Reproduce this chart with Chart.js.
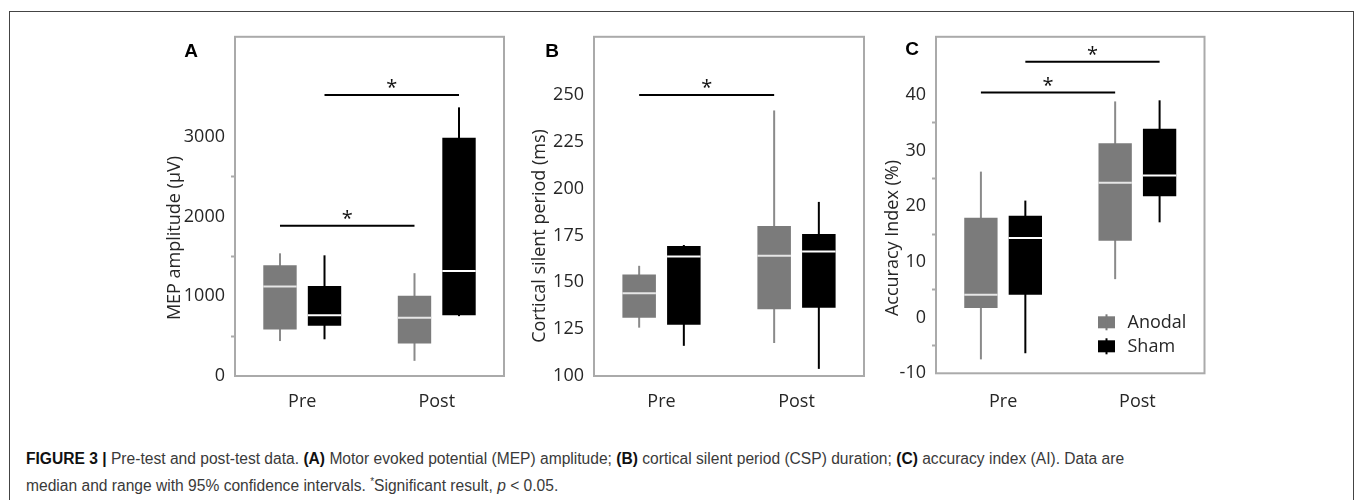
<!DOCTYPE html>
<html>
<head>
<meta charset="utf-8">
<script src="https://cdn.jsdelivr.net/npm/chart.js@4.4.1/dist/chart.umd.min.js"></script>
<style>
  body { margin: 0; background: #fff; }
  #page { position: relative; width: 1355px; height: 500px; overflow: hidden; }
  #frame { position: absolute; left: 9px; top: 11px; width: 1343px; height: 520px; border: 1px solid #444; }
  .panel { position: absolute; top: 20px; width: 385px; height: 410px; }
  #caption {
    position: absolute; left: 26px; top: 447px; white-space: nowrap;
    font-family: "Liberation Sans", Arial, sans-serif; font-size: 15.6px; line-height: 23px; color: #3a3a3a;
  }
  #caption b { color: #111; }
</style>
</head>
<body>
<div id="page">
  <div id="frame"></div>
  <div class="panel" style="left:125px"><canvas id="chartA"></canvas></div>
  <div class="panel" style="left:485px"><canvas id="chartB"></canvas></div>
  <div class="panel" style="left:826px"><canvas id="chartC"></canvas></div>
  <div id="caption"><b>FIGURE 3 |</b> Pre-test and post-test data. <b>(A)</b> Motor evoked potential (MEP) amplitude; <b>(B)</b> cortical silent period (CSP) duration; <b>(C)</b> accuracy index (AI). Data are<br>median and range with 95% confidence intervals. <sup style="font-size:10px">*</sup>Significant result, <i>p</i> &lt; 0.05.</div>
</div>
<script>
var groups = ['Pre', 'Post'];
var seriesNames = ['Anodal', 'Sham'];

// A - MEP amplitude (µV)
var mepTicks = [0, 500, 1000, 1500, 2000, 2500, 3000];
var mepAnodalMin = [438, 190];
var mepAnodalQ1 = [584, 406];
var mepAnodalMed = [1122, 729];
var mepAnodalQ3 = [1388, 1006];
var mepAnodalMax = [1537, 1288];
var mepShamMin = [460, 750];
var mepShamQ1 = [630, 762];
var mepShamMed = [762, 1317];
var mepShamQ3 = [1127, 2985];
var mepShamMax = [1512, 3366];
var mepSig = [{ series: 1, y: 3520 }, { series: 0, y: 1884 }];

// B - cortical silent period (ms)
var cspTicks = [100, 125, 150, 175, 200, 225, 250];
var cspAnodalMin = [125.8, 117.6];
var cspAnodalQ1 = [131.1, 135.6];
var cspAnodalMed = [144.2, 164.1];
var cspAnodalQ3 = [154.1, 180];
var cspAnodalMax = [158.8, 241.7];
var cspShamMin = [116.1, 103.8];
var cspShamQ1 = [127.4, 136.4];
var cspShamMed = [163.8, 166.4];
var cspShamQ3 = [169.4, 175.8];
var cspShamMax = [169.9, 192.9];
var cspSig = [{ series: 0, y: 250 }];

// C - accuracy index (%)
var aiTicks = [-10, -5, 0, 5, 10, 15, 20, 25, 30, 35, 40];
var aiAnodalMin = [-7.5, 6.9];
var aiAnodalQ1 = [1.7, 13.8];
var aiAnodalMed = [4.1, 24.2];
var aiAnodalQ3 = [17.9, 31.3];
var aiAnodalMax = [26.2, 38.8];
var aiShamMin = [-6.4, 17.1];
var aiShamQ1 = [4.1, 21.8];
var aiShamMed = [14.3, 25.5];
var aiShamQ3 = [18.3, 33.9];
var aiShamMax = [21.0, 39.0];
var aiSig = [{ series: 1, y: 45.9 }, { series: 0, y: 40.4 }];

var boxColors = ['#7b7b7b', '#000000'];
var whiskerColors = ['#8a8a8a', '#000000'];
var medianColors = ['#e6e6e6', '#ffffff'];
var textColor = '#262626';
var tickFont = { family: '"Open Sans", sans-serif', size: 18 };

var boxExtras = {
  id: 'boxExtras',
  beforeDatasetsDraw: function(chart) {
    var ctx = chart.ctx, y = chart.scales.y;
    ctx.save();
    chart.data.datasets.forEach(function(ds, i) {
      var meta = chart.getDatasetMeta(i);
      ctx.strokeStyle = whiskerColors[i];
      ctx.lineWidth = 2;
      meta.data.forEach(function(bar, j) {
        ctx.beginPath();
        ctx.moveTo(bar.x, y.getPixelForValue(ds.whiskerMin[j]));
        ctx.lineTo(bar.x, y.getPixelForValue(ds.whiskerMax[j]));
        ctx.stroke();
      });
    });
    ctx.restore();
  },
  afterDatasetsDraw: function(chart, args, opts) {
    var ctx = chart.ctx, y = chart.scales.y, area = chart.chartArea;
    ctx.save();
    // medians
    chart.data.datasets.forEach(function(ds, i) {
      var meta = chart.getDatasetMeta(i);
      ctx.strokeStyle = medianColors[i];
      ctx.lineWidth = 2;
      meta.data.forEach(function(bar, j) {
        var py = y.getPixelForValue(ds.median[j]);
        ctx.beginPath();
        ctx.moveTo(bar.x - bar.width / 2, py);
        ctx.lineTo(bar.x + bar.width / 2, py);
        ctx.stroke();
      });
    });
    // frame
    ctx.strokeStyle = '#aaaaaa';
    ctx.lineWidth = 2;
    ctx.strokeRect(area.left, area.top, area.right - area.left, area.bottom - area.top);
    // significance bars
    ctx.strokeStyle = '#000';
    ctx.fillStyle = '#111';
    ctx.font = '20px "Open Sans", sans-serif';
    ctx.textAlign = 'center';
    ctx.textBaseline = 'alphabetic';
    (opts.sig || []).forEach(function(s) {
      var meta = chart.getDatasetMeta(s.series);
      var x1 = meta.data[0].x, x2 = meta.data[1].x, py = y.getPixelForValue(s.y);
      ctx.beginPath();
      ctx.moveTo(x1, py);
      ctx.lineTo(x2, py);
      ctx.stroke();
      ctx.fillText('*', (x1 + x2) / 2, py - 1);
    });
    // legend
    if (opts.legend) {
      ctx.font = '18px "Open Sans", sans-serif';
      ctx.textAlign = 'left';
      ctx.textBaseline = 'middle';
      chart.data.datasets.forEach(function(ds, i) {
        var cy = area.bottom - 51 + i * 24;
        var sx = area.right - 106.5;
        ctx.fillStyle = boxColors[i];
        ctx.fillRect(sx, cy - 6, 17, 12);
        ctx.fillRect(sx + 7.5, cy - 8, 2, 16);
        ctx.fillStyle = textColor;
        ctx.fillText(ds.label, area.right - 77, cy + 1);
      });
    }
    ctx.restore();
  },
  afterDraw: function(chart, args, opts) {
    var ctx = chart.ctx;
    ctx.save();
    ctx.fillStyle = textColor;
    ctx.font = '18px "Open Sans", sans-serif';
    ctx.textAlign = 'center';
    ctx.textBaseline = 'middle';
    ctx.translate(opts.titlePos[0], opts.titlePos[1]);
    ctx.rotate(-Math.PI / 2);
    ctx.fillText(opts.title, 0, 0);
    ctx.restore();
    ctx.save();
    ctx.fillStyle = '#000';
    ctx.font = 'bold 19px "Liberation Sans", Arial, sans-serif';
    ctx.textAlign = 'center';
    ctx.textBaseline = 'middle';
    ctx.fillText(opts.letter, opts.letterPos[0], opts.letterPos[1]);
    ctx.restore();
  }
};

function makeDataset(i, min, q1, med, q3, max) {
  return {
    label: seriesNames[i],
    data: groups.map(function(g, j) { return [q1[j], q3[j]]; }),
    whiskerMin: min,
    whiskerMax: max,
    median: med,
    backgroundColor: boxColors[i],
    borderWidth: 0,
    categoryPercentage: 0.662,
    barPercentage: 0.75
  };
}

function panel(id, p) {
  var ctx = document.getElementById(id).getContext('2d');
  return new Chart(ctx, {
    type: 'bar',
    data: { labels: groups, datasets: p.datasets },
    options: {
      responsive: true,
      maintainAspectRatio: false,
      animation: false,
      layout: { padding: { top: 14, right: p.padRight, left: 0, bottom: 0 } },
      plugins: {
        legend: { display: false },
        tooltip: { enabled: false },
        boxExtras: { sig: p.sig, legend: p.legend, title: p.title, titlePos: p.titlePos, letter: p.letter, letterPos: p.letterPos }
      },
      scales: {
        x: {
          grid: { display: false, drawTicks: false },
          border: { display: false },
          ticks: { font: tickFont, color: textColor, padding: p.xPad },
          afterFit: function(s) { s.height = p.xHeight; }
        },
        y: {
          min: p.min,
          max: p.max,
          border: { display: false },
          grid: {
            drawOnChartArea: false,
            tickLength: 4,
            tickWidth: 2,
            tickColor: function(c) { return c.tick && !p.isMajor(c.tick.value) ? '#aaaaaa' : 'rgba(0,0,0,0)'; }
          },
          ticks: {
            autoSkip: false,
            font: tickFont,
            color: textColor,
            padding: 6,
            callback: function(v) { return p.isMajor(v) ? String(v) : ''; }
          },
          afterBuildTicks: function(s) { s.ticks = p.ticks.map(function(v) { return { value: v }; }); },
          afterFit: function(s) { s.width = p.yWidth; }
        }
      }
    },
    plugins: [boxExtras]
  });
}

panel('chartA', {
  datasets: [
    makeDataset(0, mepAnodalMin, mepAnodalQ1, mepAnodalMed, mepAnodalQ3, mepAnodalMax),
    makeDataset(1, mepShamMin, mepShamQ1, mepShamMed, mepShamQ3, mepShamMax)
  ],
  sig: mepSig, legend: false,
  min: 0, max: 4250, ticks: mepTicks,
  isMajor: function(v) { return v % 1000 === 0; },
  title: 'MEP amplitude (µV)', titlePos: [50, 218],
  letter: 'A', letterPos: [66, 32],
  yWidth: 110, xHeight: 54, padRight: 6, xPad: 15
});

panel('chartB', {
  datasets: [
    makeDataset(0, cspAnodalMin, cspAnodalQ1, cspAnodalMed, cspAnodalQ3, cspAnodalMax),
    makeDataset(1, cspShamMin, cspShamQ1, cspShamMed, cspShamQ3, cspShamMax)
  ],
  sig: cspSig, legend: false,
  min: 100, max: 281, ticks: cspTicks,
  isMajor: function(v) { return true; },
  title: 'Cortical silent period (ms)', titlePos: [55, 216],
  letter: 'B', letterPos: [67, 32],
  yWidth: 109, xHeight: 54, padRight: 6, xPad: 15
});

panel('chartC', {
  datasets: [
    makeDataset(0, aiAnodalMin, aiAnodalQ1, aiAnodalMed, aiAnodalQ3, aiAnodalMax),
    makeDataset(1, aiShamMin, aiShamQ1, aiShamMed, aiShamQ3, aiShamMax)
  ],
  sig: aiSig, legend: true,
  min: -10, max: 50.4, ticks: aiTicks,
  isMajor: function(v) { return v % 10 === 0; },
  title: 'Accuracy Index (%)', titlePos: [67, 218],
  letter: 'C', letterPos: [86, 30],
  yWidth: 110, xHeight: 56.7, padRight: 6.5, xPad: 18
});
</script>
</body>
</html>
